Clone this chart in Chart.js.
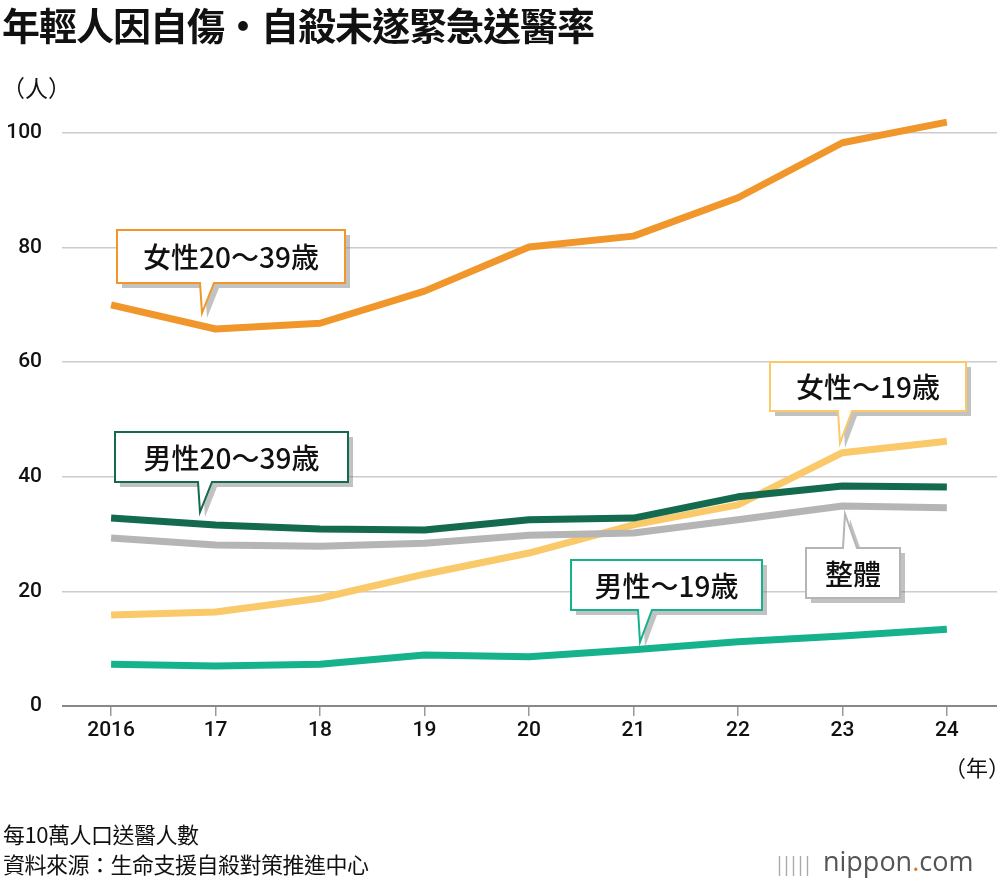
<!DOCTYPE html>
<html><head><meta charset="utf-8">
<script src="https://cdn.jsdelivr.net/npm/chart.js@4"></script>
<style>
body{margin:0;background:#fff;font-family:"Noto Sans CJK TC","Noto Sans",sans-serif;}
#wrap{position:relative;width:1000px;height:884px;overflow:hidden;}
canvas{position:absolute;left:0;top:0;}
.t{position:absolute;color:#111;white-space:nowrap;}
</style></head><body>
<div id="wrap">
<canvas id="c" width="1000" height="884"></canvas>
<div class="t" style="left:2px;top:-4px;font-size:38px;font-weight:700;letter-spacing:-1px;">年輕人因自傷•自殺未遂緊急送醫率</div>
<div class="t" style="left:2px;top:70px;font-size:23px;">（人）</div>
<div class="t" style="left:944px;top:750px;font-size:22px;">（年）</div>
<div class="t" style="left:3px;top:818px;font-size:22px;line-height:30px;letter-spacing:-0.5px;">每10萬人口送醫人數<br>資料來源：生命支援自殺對策推進中心</div>
<div class="t" style="left:774px;top:842px;font-size:27px;color:#555;font-family:'Open Sans',sans-serif;"><span style="color:#aaa;font-size:20px;letter-spacing:-4px;">|||||</span>&nbsp; nippon<span style="color:#e07020">.</span>com</div>
</div>
<script>
const years=[2016,2017,2018,2019,2020,2021,2022,2023,2024];
const tickLabels=['2016','17','18','19','20','21','22','23','24'];
const female2039=[70.0,65.8,66.8,72.4,80.1,82.0,88.7,98.3,101.9];
const male2039=[32.8,31.6,30.9,30.7,32.5,32.8,36.5,38.4,38.2];
const overall=[29.3,28.1,27.9,28.4,29.8,30.2,32.5,34.9,34.6];
const female19=[15.9,16.4,18.8,23.0,26.7,31.6,35.1,44.2,46.2];
const male19=[7.3,7.0,7.3,8.9,8.6,9.8,11.2,12.2,13.4];
const pts=a=>a.map((v,i)=>({x:years[i],y:v}));
const ds=(d,c)=>({data:pts(d),borderColor:c,borderWidth:7,pointRadius:0,tension:0,clip:false,borderCapStyle:'butt',borderJoinStyle:'round'});
const callouts=[
 ['女性20～39歳','#f0962a',117,230,228,53,202,313,'down'],
 ['女性～19歳','#f9c96a',770,362,196,49,840,443,'down'],
 ['男性20～39歳','#136a4f',115,432,233,50,200,512,'down'],
 ['整體','#b5b5b5',806,548,94,50,845,514,'up'],
 ['男性～19歳','#16b28c',571,560,191,50,640,642,'down']
];
const calloutPlugin={id:'co',afterDatasetsDraw(ch){
 const g=ch.ctx;g.save();
 callouts.forEach(([t,c,x,y,w,h,tx,ty,dir])=>{
  const path=(ox,oy)=>{g.beginPath();
   if(dir==='down'){const bx=tx-2;g.moveTo(x+ox,y+oy);g.lineTo(x+w+ox,y+oy);g.lineTo(x+w+ox,y+h+oy);g.lineTo(bx+14+ox,y+h+oy);g.lineTo(tx+ox,ty+oy);g.lineTo(bx+ox,y+h+oy);g.lineTo(x+ox,y+h+oy);}
   else{g.moveTo(x+ox,y+oy);g.lineTo(tx-2+ox,y+oy);g.lineTo(tx+ox,ty+oy);g.lineTo(tx+12+ox,y+oy);g.lineTo(x+w+ox,y+oy);g.lineTo(x+w+ox,y+h+oy);g.lineTo(x+ox,y+h+oy);}
   g.closePath();};
  path(5,5);g.fillStyle='rgba(120,120,120,0.45)';g.fill();
  path(0,0);g.fillStyle='#fff';g.fill();g.strokeStyle=c;g.lineWidth=2;g.stroke();
  g.fillStyle='#111';g.font='500 28px "Noto Sans CJK TC"';g.textAlign='center';g.textBaseline='middle';
  g.fillText(t,x+w/2,y+h/2+1);
 });g.restore();}};
new Chart(document.getElementById('c'),{type:'line',
 data:{datasets:[ds(overall,'#b5b5b5'),ds(male19,'#16b28c'),ds(male2039,'#136a4f'),ds(female19,'#f9c96a'),ds(female2039,'#f0962a')]},
 options:{responsive:false,animation:false,events:[],
  layout:{padding:{top:133,right:3,bottom:128,left:0}},
  plugins:{legend:{display:false},tooltip:{enabled:false}},
  scales:{
   x:{type:'linear',min:2015.53,max:2024.48,afterFit:s=>{s.height=50;},
    afterBuildTicks:s=>{s.ticks=years.map(v=>({value:v}));},
    border:{display:false},
    grid:{drawOnChartArea:false,tickLength:10,color:'#999',lineWidth:1.5},
    ticks:{padding:2,color:'#111',font:{size:21,weight:'500',family:'Roboto'},callback:(v)=>tickLabels[years.indexOf(v)]}},
   y:{min:0,max:100,afterFit:s=>{s.width=62;},border:{display:false},
    grid:{drawTicks:false,color:c=>c.tick.value===0?'#888':'#ccc',lineWidth:c=>c.tick.value===0?2:1.5},
    ticks:{stepSize:20,padding:20,color:'#111',font:{size:21,weight:'500',family:'Roboto'}}}
  }},
 plugins:[calloutPlugin]});
</script></body></html>
